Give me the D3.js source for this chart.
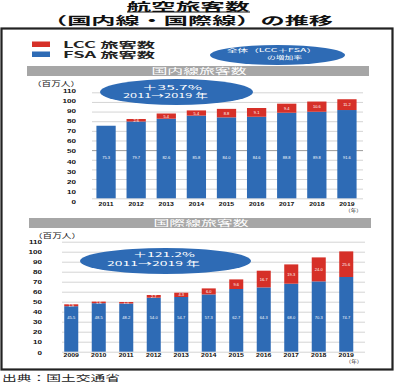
<!DOCTYPE html>
<html><head><meta charset="utf-8">
<script src="https://cdn.jsdelivr.net/npm/d3@7"></script>
<style>
body{margin:0;background:#fff;}
svg{display:block;font-family:"Noto Sans CJK JP","Noto Sans",sans-serif;}
</style></head><body>
<svg id="c" width="395" height="382"></svg>
<script>
// ---- data ----
const domYears = ["2011","2012","2013","2014","2015","2016","2017","2018","2019"];
const domFSA   = [75.3, 79.7, 82.6, 85.8, 84.0, 84.6, 88.8, 89.8, 91.6];
const domLCC   = [0,    2.6,  5.4,  5.4,  8.8,  9.1,  9.4, 10.6, 11.2];
const intYears = ["2009","2010","2011","2012","2013","2014","2015","2016","2017","2018","2019"];
const intFSA   = [45.5, 48.5, 48.2, 54.0, 54.7, 57.3, 62.7, 64.3, 68.0, 70.3, 74.7];
const intLCC   = [1.9,  1.6,  1.5,  2.7,  4.3,  6.0,  9.6, 16.7, 19.3, 24.0, 25.6];
const yTicks   = [0,10,20,30,40,50,60,70,80,90,100,110];
const titleLines = ["航空旅客数","（国内線・国際線）の推移"];
const legendLabels = ["LCC 旅客数","FSA 旅客数"];
const legendNote = ["全体（LCC＋FSA）","の増加率"];
const panelTitles = ["国内線旅客数","国際線旅客数"];
const domGrowth = ["＋35.7%","2011→2019 年"];
const intGrowth = ["＋121.2%","2011→2019 年"];
const unitLabel = "（百万人）";
const yearUnit = "（年）";
const sourceText = "出典：国土交通省";

const RED = "#d63028", BLUE = "#2e6bb5", GRAY = "#a6a6a6";
const svg = d3.select("#c");

function fit(sel, w){ sel.attr("textLength", w).attr("lengthAdjust","spacingAndGlyphs"); return sel; }
function stretch(sel, f){ sel.each(function(){ const w=this.getComputedTextLength(); d3.select(this).attr("textLength", w*f).attr("lengthAdjust","spacingAndGlyphs"); }); }

// ---- title ----
svg.append("text").attr("x",188).attr("y",10.8).attr("text-anchor","middle")
  .attr("font-size",11).attr("font-weight","bold").attr("fill","#111").text(titleLines[0]).call(fit,123);
svg.append("line").attr("x1",127).attr("x2",250).attr("y1",12).attr("y2",12).attr("stroke","#111").attr("stroke-width",1);
svg.append("text").attr("x",188).attr("y",25).attr("text-anchor","middle")
  .attr("font-size",11.5).attr("font-weight","bold").attr("fill","#111").text(titleLines[1]).call(fit,290);

// ---- frame ----
svg.append("rect").attr("x",1.5).attr("y",28.5).attr("width",391).attr("height",341)
  .attr("fill","none").attr("stroke","#222").attr("stroke-width",2.2);

// ---- legend ----
const legColors = [RED, BLUE];
legendLabels.forEach((t,i)=>{
  svg.append("rect").attr("x",32).attr("y",41.5+i*10).attr("width",18).attr("height",5.5).attr("fill",legColors[i]);
  svg.append("text").attr("x",63).attr("y",48+i*10).attr("font-size",8.5).attr("font-weight","bold")
    .attr("fill","#222").text(t).call(fit,92);
});
svg.append("ellipse").attr("cx",277.5).attr("cy",55).attr("rx",67.5).attr("ry",10).attr("fill",BLUE);
svg.append("text").attr("x",272).attr("y",52.3).attr("text-anchor","middle").attr("font-size",5)
  .attr("fill","#fff").text(legendNote[0]).call(fit,90);
svg.append("text").attr("x",284.5).attr("y",59).attr("text-anchor","middle").attr("font-size",5)
  .attr("fill","#fff").text(legendNote[1]).call(fit,35);

// ---- panel ----
function panel(c){
  const g = svg.append("g");
  g.append("rect").attr("x",c.hx).attr("y",c.hy).attr("width",342).attr("height",10).attr("fill",GRAY);
  g.append("text").attr("x",c.hx+172).attr("y",c.hy+8).attr("text-anchor","middle").attr("font-size",8)
    .attr("fill","#fff").text(c.title).call(fit,95);
  const y = d3.scaleLinear().domain([0,110]).range(c.yr);
  const yl = d3.scaleLinear().domain([0,110]).range(c.ylr);
  const x = d3.scaleBand().domain(c.years).range(c.xr).paddingInner(c.pi).paddingOuter(c.po);
  g.append("g").selectAll("line").data(yTicks).join("line")
    .attr("x1",c.gx[0]).attr("x2",c.gx[1]).attr("y1",d=>y(d)+0.5).attr("y2",d=>y(d)+0.5)
    .attr("stroke",d=>(c.dark===d)?"#9a9a9a":"#d4d4d4").attr("stroke-width",1);
  const tl = g.append("g").selectAll("text").data(yTicks).join("text")
    .attr("x",c.tx).attr("y",d=>yl(d)+2.2).attr("text-anchor","end").attr("font-size",6)
    .attr("font-weight","bold").attr("font-family","Liberation Sans, Arial, sans-serif")
    .attr("fill","#111").text(d=>d);
  stretch(tl,1.35);
  g.append("text").attr("x",c.ux).attr("y",c.uy).attr("font-size",6.5).attr("fill","#222")
    .text(unitLabel).call(fit,48);
  const bars = g.append("g");
  c.years.forEach((yr,i)=>{
    const f=c.fsa[i], l=c.lcc[i];
    bars.append("rect").attr("x",x(yr)).attr("width",x.bandwidth()).attr("y",y(f)).attr("height",y(0)-y(f)).attr("fill",BLUE);
    if(l>0) bars.append("rect").attr("x",x(yr)).attr("width",x.bandwidth()).attr("y",y(f+l)).attr("height",y(f)-y(f+l)).attr("fill",RED);
  });
  const vl = g.append("g").attr("font-size",4).attr("fill","#fff").attr("text-anchor","middle")
    .attr("font-family","Liberation Sans, Arial, sans-serif");
  c.years.forEach((yr,i)=>{
    const cx = x(yr)+x.bandwidth()/2;
    vl.append("text").attr("x",cx).attr("y",y(c.lab)+1.5).text(c.fsa[i].toFixed(1));
    if(c.lcc[i]>0) vl.append("text").attr("x",cx).attr("y",y(c.fsa[i]+c.lcc[i]/2)+1.5).text(c.lcc[i].toFixed(1));
  });
  const xl = g.append("g").selectAll("text").data(c.years).join("text")
    .attr("x",d=>x(d)+x.bandwidth()/2).attr("y",c.yly).attr("text-anchor","middle").attr("font-size",5.3)
    .attr("font-weight","bold").attr("font-family","Liberation Sans, Arial, sans-serif").attr("fill","#111").text(d=>d);
  stretch(xl,1.3);
  g.append("text").attr("x",c.yux).attr("y",c.yuy).attr("text-anchor","middle").attr("font-size",4.8)
    .attr("fill","#222").text(yearUnit).call(fit,17);
  g.append("ellipse").attr("cx",c.e[0]).attr("cy",c.e[1]).attr("rx",c.e[2]).attr("ry",c.e[3]).attr("fill",BLUE);
  g.append("text").attr("x",c.t1[0]).attr("y",c.t1[1]).attr("text-anchor","middle").attr("font-size",6.8)
    .attr("fill","#fff").text(c.growth[0]).call(fit,c.t1[2]);
  g.append("text").attr("x",c.t2[0]).attr("y",c.t2[1]).attr("text-anchor","middle").attr("font-size",6.8)
    .attr("fill","#fff").text(c.growth[1]).call(fit,c.t2[2]);
}

panel({title:panelTitles[0], hx:27, hy:66, years:domYears, fsa:domFSA, lcc:domLCC,
  yr:[198.3,92.3], ylr:[201.5,91], xr:[91,362], pi:0.36, po:0.18, gx:[92,363], dark:50,
  tx:76, ux:32, uy:85.5, lab:42.5, yly:206, yux:353.5, yuy:211.5,
  e:[176.5,92,76.5,13], t1:[172,89.5,60], t2:[165.5,97.8,85], growth:domGrowth});

panel({title:panelTitles[1], hx:29, hy:218, years:intYears, fsa:intFSA, lcc:intLCC,
  yr:[351.7,241.7], ylr:[352.3,241.7], xr:[57.5,360], pi:0.49, po:0.245, gx:[62,365], dark:null,
  tx:42, ux:33, uy:237.5, lab:34.5, yly:357, yux:354, yuy:363,
  e:[165.5,261,85.5,13], t1:[164,256.5,62], t2:[153.5,265.5,93], growth:intGrowth});

svg.append("text").attr("x",2).attr("y",381).attr("font-size",8.5).attr("fill","#222").text(sourceText).call(fit,118);
</script>
</body></html>
